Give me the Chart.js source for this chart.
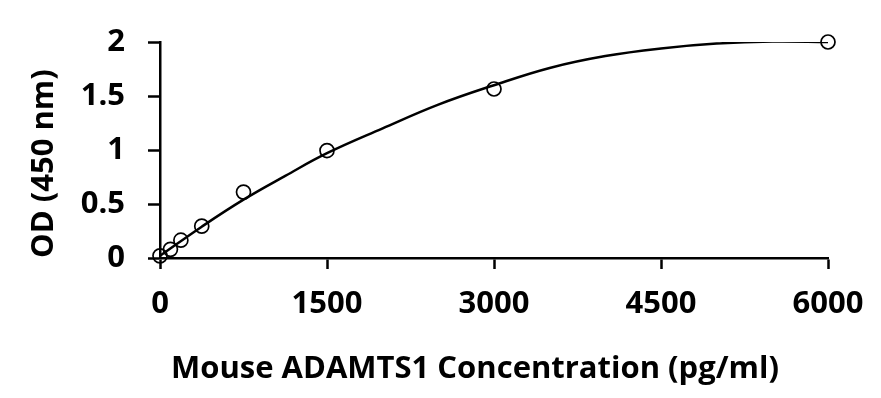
<!DOCTYPE html>
<html>
<head>
<meta charset="utf-8">
<script src="https://cdn.jsdelivr.net/npm/chart.js@4.4.1/dist/chart.umd.min.js"></script>
<style>
  html, body { margin: 0; padding: 0; background: #fff; }
  #wrap { width: 881px; height: 398px; }
</style>
</head>
<body>
<div id="wrap"><canvas id="curveChart"></canvas></div>
<script>
// Standard points (concentration pg/ml, OD 450 nm)
const concentration = [0, 93.75, 187.5, 375, 750, 1500, 3000, 6000];
const odValues = [0.02, 0.08, 0.165, 0.295, 0.61, 0.995, 1.565, 2.0];

// Fitted curve
const fitConc = [0, 375, 750, 1125, 1500, 2000, 2500, 3000, 3500, 4000, 4500, 5000, 5500, 6000];
const fitOd = [0.02, 0.29, 0.54, 0.76, 0.97, 1.20, 1.42, 1.60, 1.76, 1.87, 1.94, 1.985, 2.005, 2.0];

const xTicks = ['0', '1500', '3000', '4500', '6000'];
const yTicks = ['0', '0.5', '1', '1.5', '2'];
const xTitle = 'Mouse ADAMTS1 Concentration (pg/ml)';
const yTitle = 'OD (450 nm)';

const fontFamily = '"Open Sans", Lato, sans-serif';
const bigFont = { family: fontFamily, size: 31, weight: 'bold' };

// x axis title sits a little left of the plot centre in the original
const xTitlePlugin = {
    id: 'xTitle',
    afterDraw(chart) {
        const c = chart.ctx;
        const area = chart.chartArea;
        c.save();
        c.font = 'bold ' + bigFont.size + 'px ' + fontFamily;
        c.fillStyle = '#000';
        c.textAlign = 'center';
        c.textBaseline = 'middle';
        c.fillText(xTitle, (area.left + area.right) / 2 - 19, chart.height - 29);
        c.restore();
    }
};

const ctx = document.getElementById('curveChart').getContext('2d');

new Chart(ctx, {
    type: 'scatter',
    data: {
        datasets: [{
            type: 'line',
            label: 'Fit',
            data: fitConc.map((x, i) => ({ x: x, y: fitOd[i] })),
            borderColor: '#000',
            borderWidth: 2.5,
            pointRadius: 0,
            tension: 0.4,
            fill: false,
            order: 2
        }, {
            label: 'Standards',
            data: concentration.map((x, i) => ({ x: x, y: odValues[i] })),
            borderColor: '#000',
            backgroundColor: 'rgba(0,0,0,0)',
            pointRadius: 7,
            pointBorderWidth: 1.7,
            clip: false,
            order: 1
        }]
    },
    options: {
        responsive: true,
        maintainAspectRatio: false,
        animation: false,
        layout: {
            padding: { top: 42, right: 53, left: 0, bottom: 0 }
        },
        plugins: {
            legend: { display: false },
            tooltip: { enabled: false }
        },
        scales: {
            x: {
                type: 'linear',
                min: 0,
                max: 6000,
                afterFit: function(scale) { scale.height = 140; },
                afterBuildTicks: function(scale) {
                    scale.ticks = xTicks.map(t => ({ value: Number(t) }));
                },
                border: { color: '#000', width: 2.5 },
                grid: { drawOnChartArea: false, tickLength: 11, tickWidth: 2.5, tickColor: '#000' },
                ticks: {
                    color: '#000',
                    font: bigFont,
                    padding: 17,
                    maxRotation: 0,
                    callback: function(value) { return String(value); }
                }
            },
            y: {
                min: 0,
                max: 2,
                afterFit: function(scale) { scale.width = 160; },
                afterBuildTicks: function(scale) {
                    scale.ticks = yTicks.map(t => ({ value: Number(t) }));
                },
                border: { color: '#000', width: 2.5 },
                grid: { drawOnChartArea: false, tickLength: 12, tickWidth: 2.5, tickColor: '#000' },
                ticks: {
                    color: '#000',
                    font: bigFont,
                    padding: 23,
                    callback: function(value) { return String(value); }
                },
                title: {
                    display: true,
                    text: yTitle,
                    color: '#000',
                    font: bigFont,
                    align: 'start',
                    padding: { top: 26 }
                }
            }
        }
    },
    plugins: [xTitlePlugin]
});
</script>
</body>
</html>
